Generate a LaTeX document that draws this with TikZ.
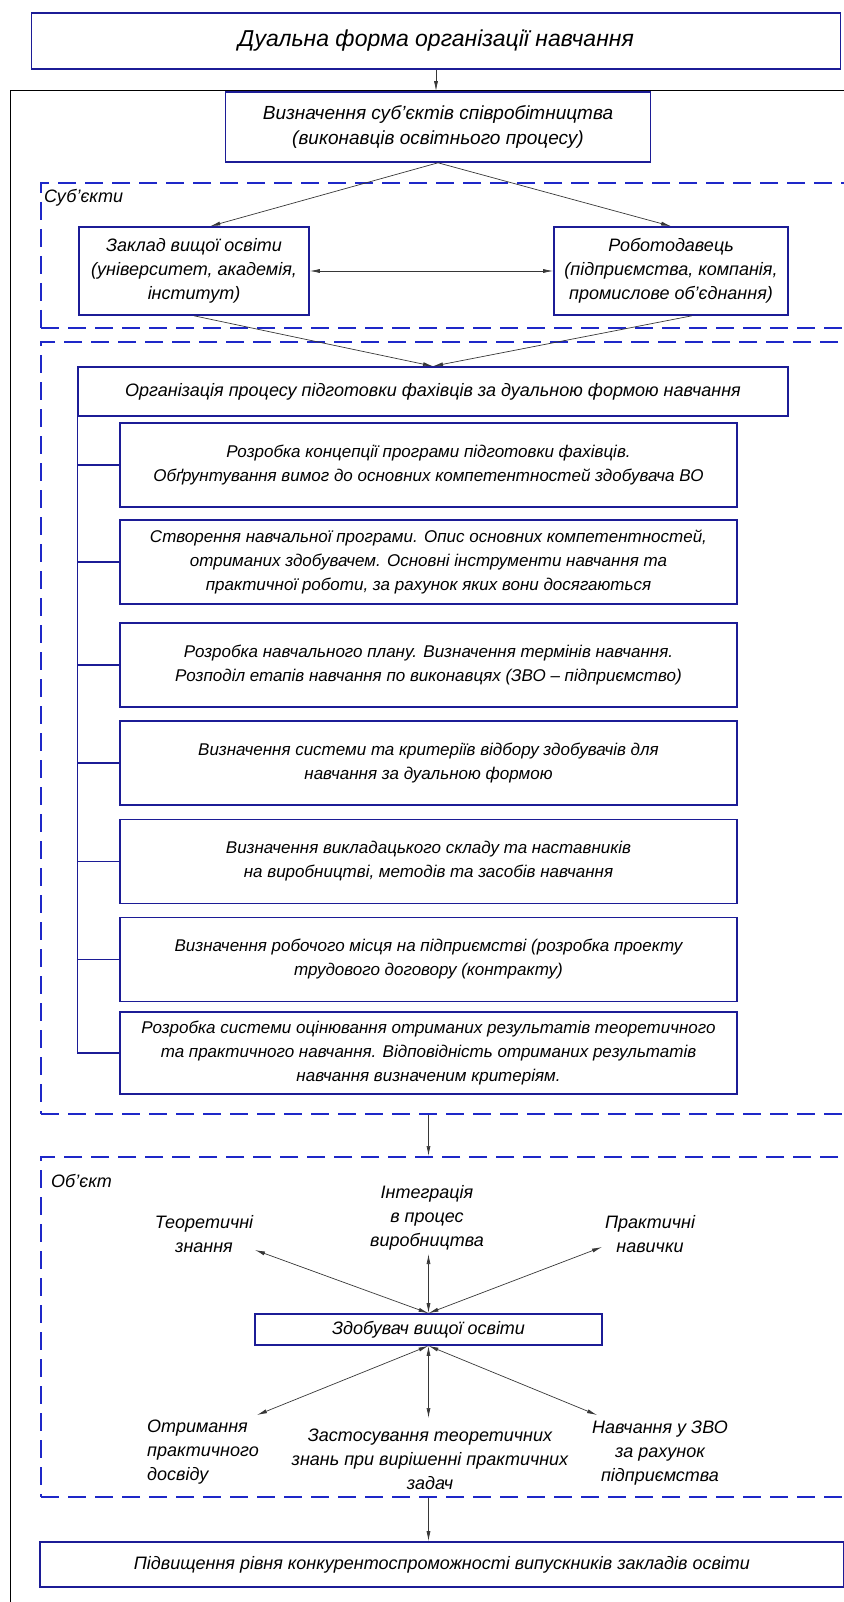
\documentclass[tikz,border=0pt]{standalone}
\usepackage{fontspec}
\setmainfont{Liberation Sans}
\usetikzlibrary{arrows.meta}
\definecolor{boxblue}{RGB}{28,28,150}
\definecolor{dashblue}{RGB}{30,40,200}
\definecolor{arrgray}{RGB}{55,55,55}
\tikzset{
  blk/.style={draw=boxblue, line width=1.6pt, align=center, inner sep=2pt,
    font=\itshape\fontsize{18}{24}\selectfont},
  stepbox/.style={blk, minimum width=617, minimum height=84,
    font=\itshape\fontsize{17}{24}\selectfont},
  frm/.style={draw=dashblue, line width=2pt, dash pattern=on 18pt off 9pt, inner sep=0pt},
  lbl/.style={align=center, inner sep=1pt, font=\itshape\fontsize{18}{24}\selectfont},
  arr/.style={draw=arrgray, line width=0.7pt, -{Latex[length=10pt,width=4pt]}},
  darr/.style={draw=arrgray, line width=0.7pt,
    {Latex[length=10pt,width=4pt]}-{Latex[length=10pt,width=4pt]}},
  brk/.style={draw=boxblue, line width=1.3pt}
}

\begin{document}
\begin{tikzpicture}[x=1pt,y=-1pt]
\useasboundingbox (0,0) rectangle (843,1602);

% outer frame
\draw[black, line width=0.8pt] (10,90) rectangle (900,1700);

% dashed frames
\node[frm, minimum width=809, minimum height=145] (subjframe) at (445.5,255.5) {};
\node[frm, minimum width=809, minimum height=772] (procframe) at (445.5,728) {};
\node[frm, minimum width=809, minimum height=340] (objframe) at (445.5,1327) {};
\node[lbl, anchor=west] (subjlbl) at (43,198) {Суб’єкти};
\node[lbl, anchor=west] (objlbl) at (50,1181) {Об’єкт};

\node[blk, minimum width=809, minimum height=56,
  font=\itshape\fontsize{23}{28}\selectfont] (top) at (436,41)
  {Дуальна форма організації навчання};
\node[blk, minimum width=425, minimum height=70,
  font=\itshape\fontsize{19}{25}\selectfont] (def) at (438,127)
  {Визначення суб’єктів співробітництва\\(виконавців освітнього процесу)};
\draw[arr] (top.south) -- (top.south |- def.north);

\node[blk, minimum width=230, minimum height=88] (zvo) at (194,271)
  {Заклад вищої освіти\\(університет, академія,\\інститут)};
\node[blk, minimum width=234, minimum height=88] (rob) at (671,271)
  {Роботодавець\\(підприємства, компанія,\\промислове об’єднання)};
\draw[arr] (def.south) -- (zvo.70);
\draw[arr] (def.south) -- (rob.north);
\draw[darr] (zvo.east) -- (rob.west);

\node[blk, minimum width=710, minimum height=49] (org) at (433,391.5)
  {Організація процесу підготовки фахівців за дуальною формою навчання};
\draw[arr] (zvo.south) -- (org.north);
\draw[arr] (rob.-65) -- (org.north);

\node[stepbox] (b1) at (428.5,465)
  {Розробка концепції програми підготовки фахівців.\\Обґрунтування вимог до основних компетентностей здобувача ВО};
\node[stepbox] (b2) at (428.5,562)
  {Створення навчальної програми. Опис основних компетентностей,\\отриманих здобувачем. Основні інструменти навчання та\\практичної роботи, за рахунок яких вони досягаються};
\node[stepbox] (b3) at (428.5,665)
  {Розробка навчального плану. Визначення термінів навчання.\\Розподіл етапів навчання по виконавцях (ЗВО – підприємство)};
\node[stepbox] (b4) at (428.5,763)
  {Визначення системи та критеріїв відбору здобувачів для\\навчання за дуальною формою};
\node[stepbox] (b5) at (428.5,861.5)
  {Визначення викладацького складу та наставників\\на виробництві, методів та засобів навчання};
\node[stepbox] (b6) at (428.5,959.5)
  {Визначення робочого місця на підприємстві (розробка проекту\\трудового договору (контракту)};
\node[stepbox, minimum height=82] (b7) at (428.5,1053)
  {Розробка системи оцінювання отриманих результатів теоретичного\\та практичного навчання. Відповідність отриманих результатів\\навчання визначеним критеріям.};

\draw[brk] (org.south west) -- (org.south west |- b7.west);
\foreach \b in {b1,b2,b3,b4,b5,b6,b7}
  \draw[brk] (org.south west |- \b.west) -- (\b.west);

\node[blk, minimum width=347, minimum height=31] (stud) at (428.5,1329.5)
  {Здобувач вищої освіти};
\draw[arr] (stud |- procframe.south) -- (stud |- objframe.north);

\node[lbl] (teor) at (204,1234) {Теоретичні\\знання};
\node[lbl] (integ) at (427,1218) {Інтеграція\\в процес\\виробництва};
\node[lbl] (prakt) at (650,1234) {Практичні\\навички};
\node[lbl, align=left] (otr) at (203,1452) {Отримання\\практичного\\досвіду};
\node[lbl] (zast) at (430,1459) {Застосування теоретичних\\знань при вирішенні практичних\\задач};
\node[lbl] (navch) at (660,1453) {Навчання у ЗВО\\за рахунок\\підприємства};

\coordinate (teorend) at (255,1250);
\coordinate (integend) at (428.5,1254);
\coordinate (praktend) at (602,1247);
\coordinate (otrend) at (257,1415);
\coordinate (zastend) at (428.5,1418);
\coordinate (navchend) at (597,1415);
\draw[darr] (stud.north) -- (teorend);
\draw[darr] (stud.north) -- (integend);
\draw[darr] (stud.north) -- (praktend);
\draw[darr] (stud.south) -- (otrend);
\draw[darr] (stud.south) -- (zastend);
\draw[darr] (stud.south) -- (navchend);

\node[blk, minimum width=804, minimum height=45] (final) at (442,1564.5)
  {Підвищення рівня конкурентоспроможності випускників закладів освіти};
\draw[arr] (stud |- objframe.south) -- (stud |- final.north);
\end{tikzpicture}
\end{document}
